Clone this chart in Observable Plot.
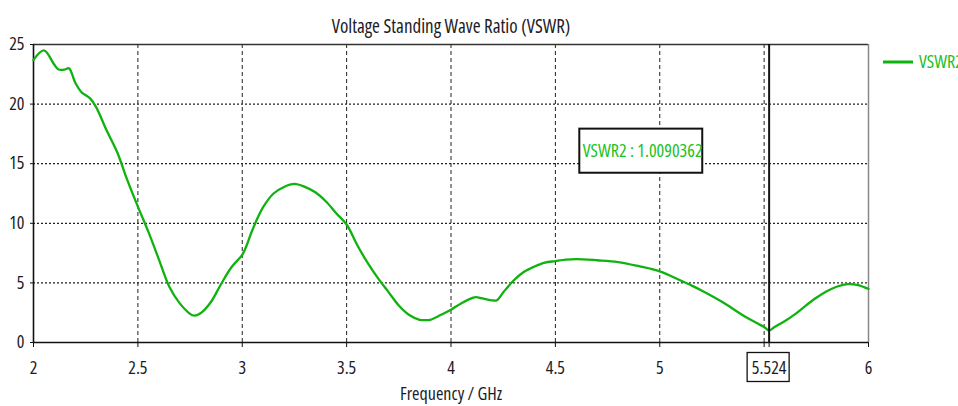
<!DOCTYPE html>
<html>
<head>
<meta charset="utf-8">
<script src="https://cdn.jsdelivr.net/npm/d3@7"></script>
<script src="https://cdn.jsdelivr.net/npm/@observablehq/plot@0.6"></script>
<style>
  html, body { margin: 0; padding: 0; background: #fff; }
  #chart svg { display: block; font-stretch: condensed; }
  #chart svg text { font-stretch: condensed; }
</style>
</head>
<body>
<div id="chart"></div>
<script>
// ---- data ----
const freq = [2.0, 2.05, 2.1, 2.12, 2.15, 2.17, 2.2, 2.23, 2.27, 2.3, 2.35, 2.4, 2.45, 2.5, 2.55, 2.6, 2.65, 2.7, 2.75, 2.77, 2.8, 2.85, 2.9, 2.95, 3.0, 3.02, 3.05, 3.1, 3.15, 3.2, 3.25, 3.3, 3.35, 3.4, 3.45, 3.5, 3.55, 3.6, 3.65, 3.7, 3.75, 3.8, 3.85, 3.88, 3.9, 3.95, 4.0, 4.05, 4.1, 4.12, 4.15, 4.2, 4.22, 4.25, 4.3, 4.35, 4.4, 4.45, 4.5, 4.55, 4.6, 4.7, 4.8, 4.9, 5.0, 5.1, 5.15, 5.2, 5.3, 5.4, 5.5, 5.524, 5.55, 5.6, 5.65, 5.7, 5.75, 5.8, 5.85, 5.9, 5.95, 6.0];
const vswr = [23.7, 24.5, 23.3, 22.9, 22.9, 23.0, 21.8, 21.0, 20.5, 19.75, 17.8, 16.0, 13.6, 11.4, 9.3, 7.0, 4.7, 3.3, 2.4, 2.25, 2.45, 3.4, 4.95, 6.35, 7.35, 8.1, 9.5, 11.35, 12.5, 13.05, 13.3, 13.05, 12.6, 11.85, 10.85, 9.9, 8.2, 6.7, 5.4, 4.25, 3.1, 2.3, 1.9, 1.88, 1.9, 2.3, 2.75, 3.3, 3.72, 3.81, 3.7, 3.53, 3.55, 4.2, 5.2, 5.93, 6.37, 6.7, 6.83, 6.95, 7.0, 6.9, 6.75, 6.4, 5.97, 5.2, 4.8, 4.37, 3.4, 2.27, 1.3, 1.009, 1.3, 1.8, 2.4, 3.1, 3.75, 4.3, 4.7, 4.9, 4.82, 4.5];

const xTicks = [2, 2.5, 3, 3.5, 4, 4.5, 5, 5.5, 5.524, 6];
const xTickLabels = ["2", "2.5", "3", "3.5", "4", "4.5", "5", "", "5.524", "6"];
const xGrid = [2.5, 3, 3.5, 4, 4.5, 5, 5.5];
const yTicks = [0, 5, 10, 15, 20, 25];
const yGrid = [5, 10, 15, 20];

const title = "Voltage Standing Wave Ratio (VSWR)";
const xLabel = "Frequency / GHz";
const seriesName = "VSWR2";
const markerFreq = 5.524;
const markerText = "VSWR2 : 1.0090362";
const markerBoxX = [4.617, 5.206];
const markerBoxY = [14.2, 17.9];

const green = "#0fb20f";
const textGreen = "#22c022";
const ink = "#1c1c28";
const font = "'Open Sans', 'Roboto Condensed', sans-serif";

const data = freq.map((f, i) => ({f, v: vswr[i]}));

// tick-label box + legend, drawn with the plot's scales and dimensions
function extras(index, scales, values, dim) {
  const g = d3.create("svg:g");
  const bottom = dim.height - dim.marginBottom;
  const right = dim.width - dim.marginRight;
  const mx = scales.x(markerFreq);
  g.append("rect")
    .attr("x", mx - 21.5).attr("y", bottom + 10.5)
    .attr("width", 42).attr("height", 29)
    .attr("fill", "none").attr("stroke", "#111").attr("stroke-width", 1.3);
  g.append("line")
    .attr("x1", right + 15).attr("x2", right + 45)
    .attr("y1", dim.marginTop + 18).attr("y2", dim.marginTop + 18)
    .attr("stroke", green).attr("stroke-width", 3);
  g.append("text")
    .attr("x", right + 51).attr("y", dim.marginTop + 18)
    .attr("dy", "0.36em")
    .attr("text-anchor", "start")
    .attr("fill", textGreen)
    .attr("font-size", 18)
    .text(seriesName);
  return g.node();
}

const chart = Plot.plot({
  width: 958,
  height: 406,
  marginLeft: 33,
  marginRight: 90,
  marginTop: 44,
  marginBottom: 64,
  style: {fontFamily: font, fontSize: "18px", color: ink, background: "#fff", overflow: "visible"},
  x: {domain: [2, 6]},
  y: {domain: [0, 25]},
  marks: [
    Plot.ruleX(xGrid, {stroke: "#222", strokeDasharray: "4,3", strokeWidth: 1}),
    Plot.ruleY(yGrid, {stroke: "#222", strokeDasharray: "2,2", strokeWidth: 1.2}),
    Plot.ruleY([25], {stroke: "#333", strokeWidth: 1.5}),
    Plot.ruleX([6], {stroke: "#888", strokeWidth: 1.5}),
    Plot.axisX({ticks: xTicks, tickFormat: (d, i) => xTickLabels[i], tickSize: 5, tickPadding: 14, label: null, stroke: "#111", fill: ink, fontSize: 18}),
    Plot.axisY({ticks: yTicks, tickSize: 3, tickPadding: 6, label: null, stroke: "#111", fill: ink, fontSize: 18}),
    Plot.ruleY([0], {stroke: "#111", strokeWidth: 1.6}),
    Plot.ruleX([2], {stroke: "#111", strokeWidth: 1.6}),
    Plot.line(data, {x: "f", y: "v", stroke: green, strokeWidth: 2.3, curve: "catmull-rom"}),
    Plot.ruleX([markerFreq], {stroke: "#111", strokeWidth: 2}),
    Plot.rect([0], {x1: () => markerBoxX[0], x2: () => markerBoxX[1], y1: () => markerBoxY[0], y2: () => markerBoxY[1], fill: "#fff", stroke: "#111", strokeWidth: 2}),
    Plot.text([markerText], {x: () => markerBoxX[0], y: () => (markerBoxY[0] + markerBoxY[1]) / 2, text: d => d, textAnchor: "start", dx: 3, fill: textGreen, fontSize: 18}),
    Plot.text([title], {frameAnchor: "top", dy: -25, text: d => d, fill: ink, fontSize: 19}),
    Plot.text([xLabel], {frameAnchor: "bottom", dy: 57, text: d => d, fill: ink, fontSize: 18}),
    extras
  ]
});
document.getElementById("chart").appendChild(chart);
</script>
</body>
</html>
